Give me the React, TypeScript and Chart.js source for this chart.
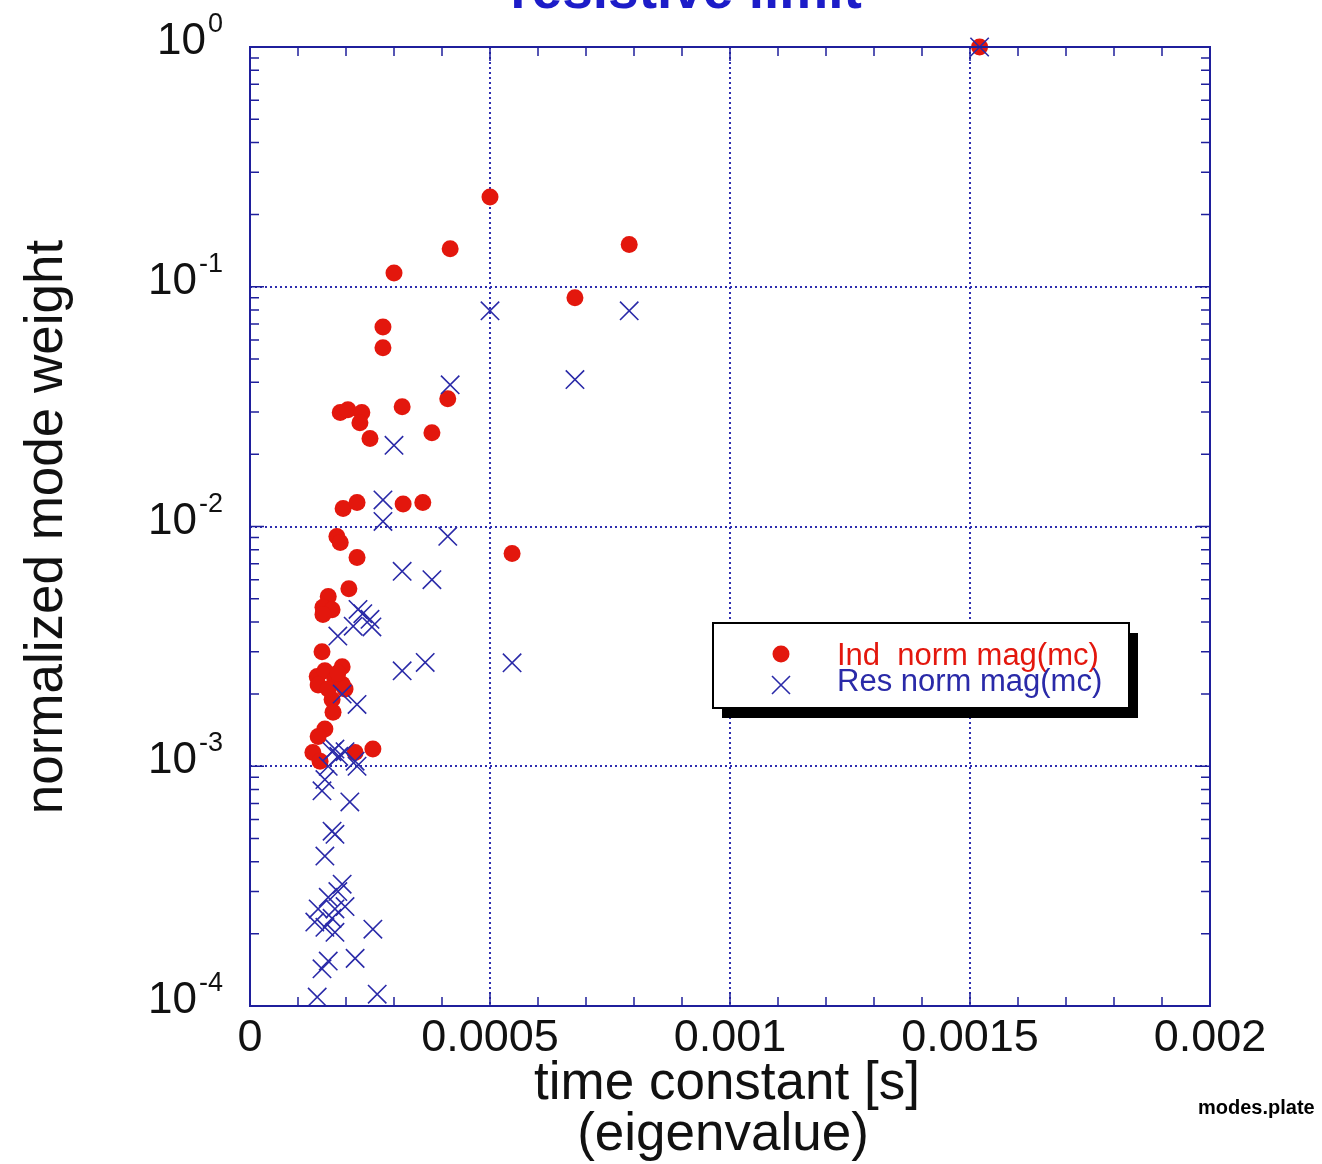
import React, { useEffect, useRef } from "react";
import { Chart, registerables } from "chart.js";

Chart.register(...registerables);

// ---------------- data ----------------
const indX = [
  0.00152, 0.0005, 0.00079, 0.000417, 0.0003, 0.000677, 0.000277, 0.000277,
  0.000412, 0.000317, 0.000188, 0.000204, 0.000233, 0.000229, 0.00025, 0.000379,
  0.000194, 0.000223, 0.000319, 0.00036, 0.000181, 0.000188, 0.000223, 0.000546,
  0.000206, 0.000163, 0.000152, 0.000171, 0.000152, 0.00015, 0.00014, 0.000156,
  0.000192, 0.000177, 0.000142, 0.000192, 0.000198, 0.000171, 0.000173, 0.000156,
  0.000142, 0.000131, 0.000146, 0.000219, 0.000256, 0.000163, 0.000183,
];
const indY = [
  1.0, 0.237, 0.15, 0.144, 0.114, 0.09, 0.068, 0.0557,
  0.0341, 0.0316, 0.0299, 0.0307, 0.0299, 0.0271, 0.0233, 0.0246,
  0.0119, 0.0126, 0.0124, 0.0126, 0.00908, 0.00858, 0.00743, 0.00772,
  0.0055, 0.0051, 0.0046, 0.0045, 0.0043, 0.003, 0.00237, 0.0025,
  0.0026, 0.0023, 0.00218, 0.0022, 0.0021, 0.0019, 0.00168, 0.00143,
  0.00133, 0.00114, 0.00105, 0.00114, 0.00118, 0.0021, 0.00245,
];

const resX = [
  0.00152, 0.0005, 0.00079, 0.000677, 0.000417, 0.0003, 0.000277, 0.000277,
  0.000412, 0.000317, 0.000379, 0.000225, 0.000235, 0.00025, 0.000254, 0.000215,
  0.000183, 0.000317, 0.000365, 0.000546, 0.000192, 0.000223, 0.000177, 0.000198,
  0.000219, 0.000163, 0.000223, 0.000156, 0.00015, 0.000208, 0.000171, 0.000177,
  0.000156, 0.000192, 0.000183, 0.000163, 0.000142, 0.000177, 0.000198, 0.000135,
  0.000171, 0.000177, 0.000156, 0.000256, 0.00015, 0.000163, 0.000219, 0.00014,
  0.000265, 0.000171, 0.000185,
];
const resY = [
  1.0, 0.0794, 0.0794, 0.041, 0.039, 0.0218, 0.0129, 0.0105,
  0.0091, 0.0065, 0.006, 0.00451, 0.00433, 0.0041, 0.00381, 0.00384,
  0.00349, 0.0025, 0.00271, 0.0027, 0.002, 0.00181, 0.00118, 0.00115,
  0.00105, 0.001, 0.001, 0.00088, 0.00079, 0.00071, 0.000536, 0.00052,
  0.000422, 0.000322, 0.0003, 0.000284, 0.000254, 0.000254, 0.00026, 0.000224,
  0.000232, 0.000203, 0.000213, 0.000209, 0.000143, 0.000154, 0.000158, 0.000109,
  0.000112, 0.00115, 0.0011,
];

const xTickLabels = ["0", "0.0005", "0.001", "0.0015", "0.002"];
const yDecades = [0, -1, -2, -3, -4];
const titleText = "resistive limit";
const xTitleLines = ["time constant [s]", "(eigenvalue)"];
const yTitleText = "normalized mode weight";
const legendLabels = ["Ind  norm mag(mc)", "Res norm mag(mc)"];
const footnoteText = "modes.plate";

// ---------------- styles ----------------
const FONT = "'Liberation Sans', Arial, Helvetica, sans-serif";
const RED = "#e3170d";
const BLUE = "#2a2aa8";
const FRAME = "#1f1f9c";
const GRID = "#2d2db0";

const W = 1322;
const H = 1164;

const decorPlugin = {
  id: "decor",
  afterDraw(chart: any) {
    const ctx: CanvasRenderingContext2D = chart.ctx;
    const a = chart.chartArea;
    const xs = chart.scales.x;
    const ys = chart.scales.y;
    ctx.save();

    // frame
    ctx.strokeStyle = FRAME;
    ctx.lineWidth = 2;
    ctx.strokeRect(a.left, a.top, a.right - a.left, a.bottom - a.top);

    // x ticks (inward, top and bottom)
    ctx.lineWidth = 1.5;
    for (let k = 1; k < 20; k++) {
      const px = xs.getPixelForValue(k * 0.0001);
      const len = k % 5 === 0 ? 14 : 9;
      ctx.beginPath();
      ctx.moveTo(px, a.bottom);
      ctx.lineTo(px, a.bottom - len);
      ctx.moveTo(px, a.top);
      ctx.lineTo(px, a.top + len);
      ctx.stroke();
    }
    // y ticks (inward, left and right)
    for (let d = -4; d < 0; d++) {
      for (let m = 1; m <= 9; m++) {
        if (d === -4 && m === 1) continue;
        const py = ys.getPixelForValue(m * Math.pow(10, d));
        const len = m === 1 ? 14 : 9;
        ctx.beginPath();
        ctx.moveTo(a.left, py);
        ctx.lineTo(a.left + len, py);
        ctx.moveTo(a.right, py);
        ctx.lineTo(a.right - len, py);
        ctx.stroke();
      }
    }

    // y tick labels 10^n
    ctx.fillStyle = "#111";
    ctx.textAlign = "left";
    ctx.textBaseline = "alphabetic";
    for (const d of yDecades) {
      const py = ys.getPixelForValue(Math.pow(10, d));
      const base = "10";
      const exp = d === 0 ? "0" : "-" + String(-d);
      ctx.font = `44px ${FONT}`;
      const wb = ctx.measureText(base).width;
      ctx.font = `27px ${FONT}`;
      const we = ctx.measureText(exp).width;
      const right = 223;
      const x0 = right - we - wb - 2;
      ctx.font = `44px ${FONT}`;
      ctx.fillText(base, x0, py + 7);
      ctx.font = `27px ${FONT}`;
      ctx.fillText(exp, x0 + wb + 2, py - 15);
    }

    // x tick labels
    ctx.font = `45px ${FONT}`;
    ctx.textAlign = "center";
    xTickLabels.forEach((lab, i) => {
      const px = xs.getPixelForValue(i * 0.0005);
      ctx.fillText(lab, px, 1051);
    });

    // axis titles
    ctx.font = `53px ${FONT}`;
    ctx.fillText(xTitleLines[0], 727, 1099);
    ctx.fillText(xTitleLines[1], 723, 1150);

    ctx.save();
    ctx.translate(62, 527);
    ctx.rotate(-Math.PI / 2);
    ctx.textAlign = "center";
    ctx.fillText(yTitleText, 0, 0);
    ctx.restore();

    // chart title (cut off at top)
    ctx.font = `bold 55px ${FONT}`;
    ctx.fillStyle = "#1c1cc8";
    ctx.textAlign = "center";
    ctx.fillText(titleText, 686, 8);

    // legend
    const lx = 713, ly = 623, lw = 416, lh = 85;
    ctx.fillStyle = "#000";
    ctx.fillRect(lx + 9, ly + 10, lw, lh);
    ctx.fillStyle = "#fff";
    ctx.fillRect(lx, ly, lw, lh);
    ctx.strokeStyle = "#000";
    ctx.lineWidth = 2;
    ctx.strokeRect(lx, ly, lw, lh);

    ctx.fillStyle = RED;
    ctx.beginPath();
    ctx.arc(781, 654, 8.5, 0, Math.PI * 2);
    ctx.fill();
    ctx.strokeStyle = BLUE;
    ctx.lineWidth = 1.6;
    ctx.beginPath();
    ctx.moveTo(772, 676);
    ctx.lineTo(790, 694);
    ctx.moveTo(790, 676);
    ctx.lineTo(772, 694);
    ctx.stroke();

    ctx.textAlign = "left";
    ctx.font = `31px ${FONT}`;
    ctx.fillStyle = RED;
    ctx.fillText(legendLabels[0], 837, 665);
    ctx.fillStyle = BLUE;
    ctx.fillText(legendLabels[1], 837, 691);

    // footnote
    ctx.fillStyle = "#000";
    ctx.font = `bold 20px ${FONT}`;
    ctx.fillText(footnoteText, 1198, 1114);

    ctx.restore();
  },
};

export default function App() {
  const ref = useRef<HTMLCanvasElement | null>(null);

  useEffect(() => {
    const canvas = ref.current;
    if (!canvas) return;
    const chart = new Chart(canvas, {
      type: "scatter",
      data: {
        datasets: [
          {
            label: legendLabels[1],
            data: resX.map((x, i) => ({ x, y: resY[i] })),
            pointStyle: "crossRot",
            pointRadius: 13,
            pointBorderWidth: 1.6,
            borderColor: BLUE,
            backgroundColor: BLUE,
            clip: false as any,
            order: 1,
          },
          {
            label: legendLabels[0],
            data: indX.map((x, i) => ({ x, y: indY[i] })),
            pointStyle: "circle",
            pointRadius: 8.5,
            pointBorderWidth: 0,
            borderColor: RED,
            backgroundColor: RED,
            clip: false as any,
            order: 2,
          },
        ],
      },
      options: {
        responsive: false,
        animation: false,
        devicePixelRatio: 1,
        layout: { padding: { top: 47, right: 112, left: 0, bottom: 0 } },
        plugins: {
          legend: { display: false },
          title: { display: false },
          tooltip: { enabled: false },
        },
        scales: {
          x: {
            type: "linear",
            min: 0,
            max: 0.002,
            ticks: { stepSize: 0.0005, display: false },
            grid: {
              drawTicks: false,
              lineWidth: 2,
              color: (c: any) =>
                c.index === 0 || c.index === xTickLabels.length - 1 ? "rgba(0,0,0,0)" : GRID,
            },
            border: { display: false, dash: [2, 3] },
            afterFit: (s: any) => {
              s.height = H - 1006;
              s.paddingLeft = 0;
              s.paddingRight = 0;
            },
          },
          y: {
            type: "logarithmic",
            min: 1e-4,
            max: 1,
            ticks: { display: false },
            grid: {
              drawTicks: false,
              lineWidth: 2,
              color: (c: any) => {
                const v = c.tick ? c.tick.value : 0;
                const l = Math.log10(v);
                const major = Math.abs(l - Math.round(l)) < 1e-6;
                return major && v < 0.99 && v > 1.01e-4 ? GRID : "rgba(0,0,0,0)";
              },
            },
            border: { display: false, dash: [2, 3] },
            afterFit: (s: any) => {
              s.width = 250;
              s.paddingTop = 0;
              s.paddingBottom = 0;
            },
          },
        },
      } as any,
      plugins: [decorPlugin],
    });
    return () => chart.destroy();
  }, []);

  return (
    <div style={{ position: "fixed", left: 0, top: 0, width: W, height: H, background: "#fff" }}>
      <canvas ref={ref} width={W} height={H} style={{ display: "block", width: W, height: H }} />
    </div>
  );
}
